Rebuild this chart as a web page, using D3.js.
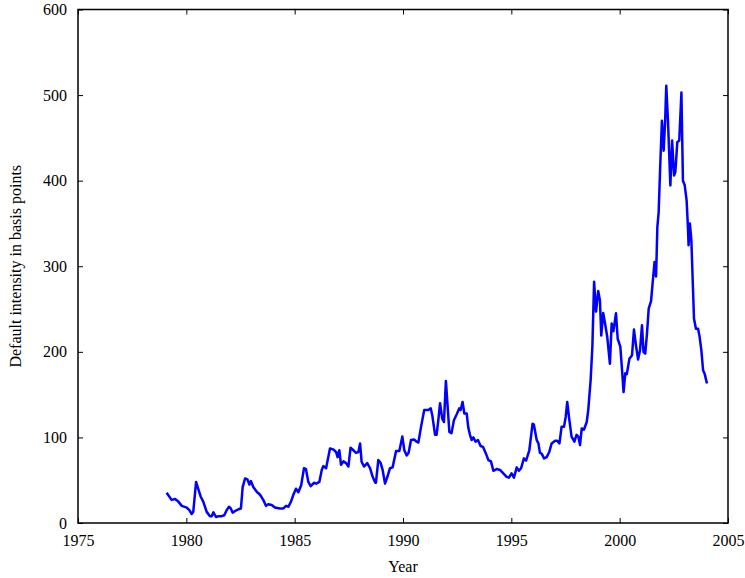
<!DOCTYPE html>
<html><head><meta charset="utf-8">
<script src="https://cdn.jsdelivr.net/npm/d3@7"></script>
<style>body{margin:0;background:#fff}svg text{font-family:"Liberation Serif","DejaVu Serif",serif;}</style>
</head><body><svg id="c" width="745" height="578"></svg>
<script>
const xTicks = [1975,1980,1985,1990,1995,2000,2005];
const yTicks = [0,100,200,300,400,500,600];
const xLabel = "Year";
const yLabel = "Default intensity in basis points";
const years = [1979.09,1979.32,1979.48,1979.63,1979.79,1980.02,1980.14,1980.25,1980.32,1980.45,1980.55,1980.66,1980.78,1980.94,1981.09,1981.17,1981.25,1981.37,1981.5,1981.63,1981.75,1981.86,1981.97,1982.05,1982.14,1982.25,1982.4,1982.52,1982.6,1982.71,1982.82,1982.91,1982.98,1983.09,1983.25,1983.4,1983.55,1983.68,1983.78,1983.94,1984.09,1984.32,1984.48,1984.6,1984.71,1984.83,1984.94,1985.06,1985.17,1985.3,1985.43,1985.52,1985.63,1985.74,1985.89,1986.0,1986.14,1986.25,1986.32,1986.45,1986.63,1986.78,1986.91,1986.98,1987.06,1987.14,1987.25,1987.37,1987.48,1987.58,1987.71,1987.83,1987.94,1988.02,1988.09,1988.2,1988.35,1988.48,1988.6,1988.71,1988.75,1988.86,1988.97,1989.06,1989.17,1989.28,1989.4,1989.52,1989.68,1989.83,1989.97,1990.06,1990.17,1990.26,1990.37,1990.51,1990.63,1990.71,1990.83,1990.98,1991.17,1991.28,1991.35,1991.48,1991.55,1991.63,1991.71,1991.81,1991.89,1991.98,1992.06,1992.14,1992.24,1992.35,1992.48,1992.6,1992.66,1992.75,1992.83,1992.94,1993.01,1993.09,1993.17,1993.25,1993.35,1993.46,1993.58,1993.69,1993.83,1993.94,1994.06,1994.17,1994.32,1994.48,1994.63,1994.78,1994.89,1995.01,1995.12,1995.25,1995.35,1995.45,1995.58,1995.68,1995.83,1995.98,1996.04,1996.17,1996.25,1996.32,1996.4,1996.51,1996.63,1996.75,1996.86,1997.02,1997.12,1997.22,1997.32,1997.43,1997.51,1997.58,1997.68,1997.78,1997.91,1998.01,1998.09,1998.17,1998.25,1998.35,1998.48,1998.55,1998.66,1998.74,1998.82,1998.91,1999.01,1999.09,1999.15,1999.24,1999.32,1999.43,1999.55,1999.63,1999.71,1999.83,1999.91,1999.98,2000.03,2000.11,2000.18,2000.26,2000.33,2000.45,2000.57,2000.66,2000.75,2000.85,2000.94,2001.03,2001.1,2001.18,2001.26,2001.34,2001.45,2001.52,2001.61,2001.68,2001.74,2001.8,2001.87,2001.95,2002.03,2002.1,2002.15,2002.23,2002.34,2002.42,2002.51,2002.57,2002.66,2002.75,2002.85,2002.92,2003.0,2003.09,2003.15,2003.18,2003.24,2003.31,2003.37,2003.43,2003.52,2003.62,2003.69,2003.77,2003.85,2003.92,2004.03];
const intensity = [35.4,27,28,25,20,18,15,10.5,13,48,40,31,25,13,8,8,12.5,7,8,8,9,15,19,17,12,14,16,17,42,52,51,45,49,42,36.5,33,27,20,22,21,18,17,17,20,19,25,33,40,36,44,64,63,48,43,47,46,48,62,66.5,64,87,86,83,77,85,68,72,70,66,88,85,82,83,93,71.5,66,70,64,54,47.5,47,73.5,70,62,46,54,64,65,84,84,101,85,79,82,97,97.5,95,94,112,132,132,134,126,103,103,120,140,122,118,166,136,106.5,105,120,127,134,132,141.5,128,128,112,103,97,100,95,97,90,89,81,73.5,72,61,63,62,58,54,53,58,53,65,61,64,75.5,73,85,116,115,97,93,82,81,75.5,77,83,93,96,96,93,112.5,112.5,124,141.5,120,101,95,103,101,91,110.5,109,118,132,167,206,282,247,271,260,219,245.5,234,217,186,233,224,245,215,210,206,179,153,175,174,192,196,226,208,191,202,231,200,198,221,250.5,259.5,280,305,288,346,363,416,470,435,470,511,470,394.5,447,406,410,445,447,503,400,395,377,346,324.5,350,330,284,239,227,227,217.5,202,178.5,174.5,163];

const W=745,H=578,m={l:78,r:17,t:9.5,b:55};
const svg=d3.select("#c");
const x=d3.scaleLinear().domain([1975,2005]).range([m.l,W-m.r]);
const y=d3.scaleLinear().domain([0,600]).range([H-m.b,m.t]);
const fs="16px";
svg.append("rect").attr("x",m.l).attr("y",m.t).attr("width",W-m.r-m.l).attr("height",H-m.b-m.t)
  .attr("fill","none").attr("stroke","#000").attr("stroke-width",1.5);
const tl=5;
const gb=svg.append("g").attr("transform",`translate(0,${H-m.b})`)
  .call(d3.axisBottom(x).tickValues(xTicks).tickFormat(d3.format("d")).tickSizeInner(-tl).tickSizeOuter(0).tickPadding(tl+7));
const gt=svg.append("g").attr("transform",`translate(0,${m.t})`)
  .call(d3.axisTop(x).tickValues(xTicks).tickFormat("").tickSizeInner(-tl).tickSizeOuter(0));
const gl=svg.append("g").attr("transform",`translate(${m.l},0)`)
  .call(d3.axisLeft(y).tickValues(yTicks).tickSizeInner(-tl).tickSizeOuter(0).tickPadding(tl+6));
const gr=svg.append("g").attr("transform",`translate(${W-m.r},0)`)
  .call(d3.axisRight(y).tickValues(yTicks).tickFormat("").tickSizeInner(-tl).tickSizeOuter(0));
[gb,gt,gl,gr].forEach(g=>{g.select(".domain").remove();g.selectAll("line").attr("stroke","#000").attr("stroke-width",1);
  g.selectAll("text").attr("font-family","Liberation Serif, DejaVu Serif, serif").attr("font-size",fs).attr("fill","#000");});
const data=years.map((d,i)=>[d,intensity[i]]);
svg.append("path").datum(data).attr("fill","none").attr("stroke","#0000ff").attr("stroke-width",2.5)
  .attr("stroke-linejoin","round").attr("d",d3.line().x(d=>x(d[0])).y(d=>y(d[1])));
svg.append("text").attr("x",(m.l+W-m.r)/2).attr("y",572).attr("text-anchor","middle").attr("font-size",fs).text(xLabel);
svg.append("text").attr("transform",`translate(21,${(m.t+H-m.b)/2}) rotate(-90)`).attr("text-anchor","middle").attr("font-size",fs).text(yLabel);
</script></body></html>
